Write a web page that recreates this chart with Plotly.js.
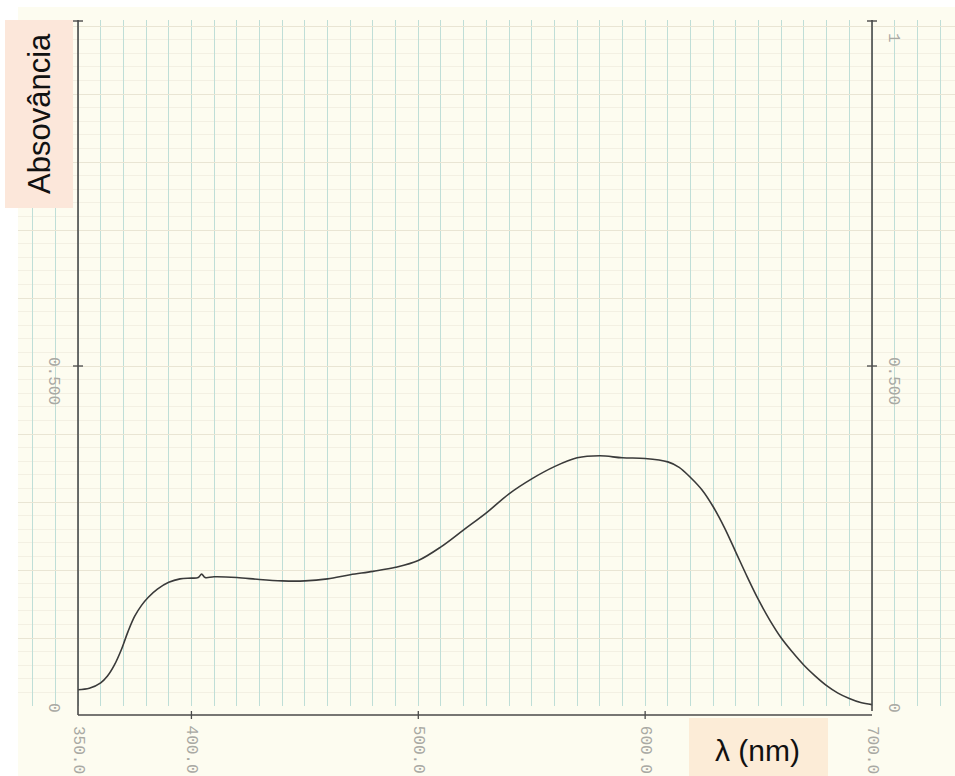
<!DOCTYPE html>
<html>
<head>
<meta charset="utf-8">
<script src="https://cdn.plot.ly/plotly-3.0.1.min.js"></script>
<style>
  html, body { margin: 0; padding: 0; background: #ffffff; }
  #chart { width: 955px; height: 776px; }
</style>
</head>
<body>
<div id="chart"></div>
<script>
// Absorption spectrum recorded on chart paper (350–700 nm)
const wavelength = [
  350, 355, 360, 363, 366, 369, 372, 375, 378, 381,
  385, 390, 395, 400, 403, 404.5, 406, 410, 420, 430,
  440, 450, 460, 470, 480, 490, 500, 510, 520, 530,
  540, 550, 560, 570, 580, 590, 600, 610, 615, 620,
  625, 630, 635, 640, 645, 650, 655, 660, 665, 670,
  675, 680, 685, 690, 695, 700
];
const absorbance = [
  0.024, 0.026, 0.034, 0.044, 0.060, 0.082, 0.109, 0.132, 0.148, 0.160,
  0.172, 0.182, 0.187, 0.188, 0.189, 0.194, 0.189, 0.190, 0.189, 0.186,
  0.184, 0.184, 0.187, 0.193, 0.198, 0.204, 0.214, 0.234, 0.259, 0.284,
  0.312, 0.334, 0.352, 0.365, 0.368, 0.365, 0.364, 0.359, 0.351, 0.336,
  0.318, 0.293, 0.262, 0.226, 0.190, 0.156, 0.126, 0.100, 0.079, 0.060,
  0.044, 0.030, 0.019, 0.011, 0.005, 0.002
];

// Printed scale marks on the recorder paper
const xTickValues = [350, 400, 500, 600, 700];
const xTickLabels = ["350.0", "400.0", "500.0", "600.0", "700.0"];
const yTickValues = [0, 0.5, 1];
const yTickLabels = ["0", "0.500", "1"];

const xTitle = "λ (nm)";
const yTitle = "Absovância";

// ---- geometry of the sheet (pixels) ----
const W = 955, H = 776;
const M = { l: 18, r: 0, t: 20, b: 70 };
const plotW = W - M.l - M.r, plotH = H - M.t - M.b;
const axisLeftPx = 78, axisRightPx = 872;          // 350 nm and 700 nm pen limits
const pxPerNm = (axisRightPx - axisLeftPx) / (700 - 350);
const xRange = [350 - (axisLeftPx - M.l) / pxPerNm, 700 + (W - M.r - axisRightPx) / pxPerNm];
const fullScalePx = 680;                           // absorbance 0 -> 1 spans 680 px
const yRange = [0, plotH / fullScalePx];

const PX = x => (x - M.l) / plotW;                 // page px -> paper x
const PY = y => (H - M.b - y) / plotH;             // page px -> paper y

const ink = "#4a4a4a";
const printGray = "#a9a9a3";

const shapes = [
  // paper sheet
  { type: "rect", xref: "paper", yref: "paper", x0: PX(18), x1: PX(W), y0: PY(H), y1: PY(7),
    fillcolor: "#fdfcf0", line: { width: 0 }, layer: "below" },
  // pen frame: left, right and base line
  { type: "line", xref: "x", yref: "paper", x0: 350, x1: 350, y0: PY(715), y1: PY(20),
    line: { color: ink, width: 1.6 } },
  { type: "line", xref: "x", yref: "paper", x0: 700, x1: 700, y0: PY(711), y1: PY(20),
    line: { color: ink, width: 1.6 } },
  { type: "line", xref: "x", yref: "paper", x0: 350, x1: 700, y0: PY(715), y1: PY(715),
    line: { color: ink, width: 1.6 } },
  // caps at the top of both vertical lines
  { type: "line", xref: "x", yref: "paper", xsizemode: "pixel", xanchor: 350, x0: -5, x1: 5,
    y0: PY(21), y1: PY(21), line: { color: ink, width: 1.4 } },
  { type: "line", xref: "x", yref: "paper", xsizemode: "pixel", xanchor: 700, x0: -5, x1: 5,
    y0: PY(21), y1: PY(21), line: { color: ink, width: 1.4 } },
  // title boxes
  { type: "rect", xref: "paper", yref: "paper", x0: PX(5), x1: PX(73), y0: PY(208), y1: PY(20),
    fillcolor: "#fce7da", line: { width: 0 }, layer: "above" },
  { type: "rect", xref: "paper", yref: "paper", x0: PX(689), x1: PX(828), y0: PY(H), y1: PY(718),
    fillcolor: "#fcecd7", line: { width: 0 }, layer: "above" }
];

// tick marks on the base line
xTickValues.slice(1, -1).forEach(v => {
  shapes.push({ type: "line", xref: "x", yref: "paper", x0: v, x1: v,
    ysizemode: "pixel", yanchor: PY(715), y0: -4, y1: 4, line: { color: ink, width: 1.3 } });
});
// tick marks on the two absorbance scales
[350, 700].forEach(xa => {
  shapes.push({ type: "line", xref: "x", yref: "y", xsizemode: "pixel", xanchor: xa, x0: -5, x1: 5,
    y0: 0.5, y1: 0.5, line: { color: ink, width: 1.3 } });
});

const tickFont = { family: "Liberation Mono, DejaVu Sans Mono, monospace", size: 16, color: printGray };
const annotations = [];

xTickValues.forEach((v, i) => {
  annotations.push({ xref: "x", yref: "paper", x: v, y: PY(724), text: xTickLabels[i],
    textangle: 90, showarrow: false, xanchor: "center", yanchor: "top", font: tickFont });
});

// vertical offsets of the printed absorbance labels relative to their tick
const yLabelShift = { "0": -2, "0.500": -15, "1": -12 };
yTickValues.forEach((v, i) => {
  const t = yTickLabels[i];
  // the full-scale mark on the left is covered by the title box
  if (v < 1) {
    annotations.push({ xref: "x", yref: "y", x: 350, y: v, xshift: -25, yshift: yLabelShift[t],
      text: t, textangle: 90, showarrow: false, xanchor: "center", yanchor: "middle", font: tickFont });
  }
  annotations.push({ xref: "x", yref: "y", x: 700, y: v, xshift: 21, yshift: yLabelShift[t],
    text: t, textangle: 90, showarrow: false, xanchor: "center", yanchor: "middle", font: tickFont });
});

annotations.push({ xref: "paper", yref: "paper", x: PX(40), y: PY(114), text: yTitle,
  textangle: -90, showarrow: false, xanchor: "center", yanchor: "middle",
  font: { family: "Liberation Sans, Arial, sans-serif", size: 31, color: "#111111" } });
annotations.push({ xref: "paper", yref: "paper", x: PX(757), y: PY(750), text: xTitle,
  showarrow: false, xanchor: "center", yanchor: "middle",
  font: { family: "Liberation Sans, Arial, sans-serif", size: 30, color: "#111111" } });

const trace = {
  x: wavelength,
  y: absorbance,
  type: "scatter",
  mode: "lines",
  line: { color: "#3a3a3a", width: 1.6, shape: "spline", smoothing: 1 },
  hoverinfo: "skip"
};

const layout = {
  width: W, height: H,
  margin: { l: M.l, r: M.r, t: M.t, b: M.b, pad: 0 },
  paper_bgcolor: "#ffffff",
  plot_bgcolor: "rgba(0,0,0,0)",
  showlegend: false,
  xaxis: {
    range: xRange, tick0: 350, dtick: 10, showgrid: true, gridcolor: "#bfded7", gridwidth: 1,
    showticklabels: false, ticks: "", zeroline: false, showline: false, fixedrange: true
  },
  yaxis: {
    range: yRange, tick0: 0, dtick: 0.1, showgrid: true, gridcolor: "#e9e5d4", gridwidth: 1,
    minor: { dtick: 0.02, showgrid: true, gridcolor: "#f3f0e3", gridwidth: 1 },
    showticklabels: false, ticks: "", zeroline: false, showline: false, fixedrange: true
  },
  shapes: shapes,
  annotations: annotations
};

Plotly.newPlot("chart", [trace], layout, { displayModeBar: false, staticPlot: true });
</script>
</body>
</html>
